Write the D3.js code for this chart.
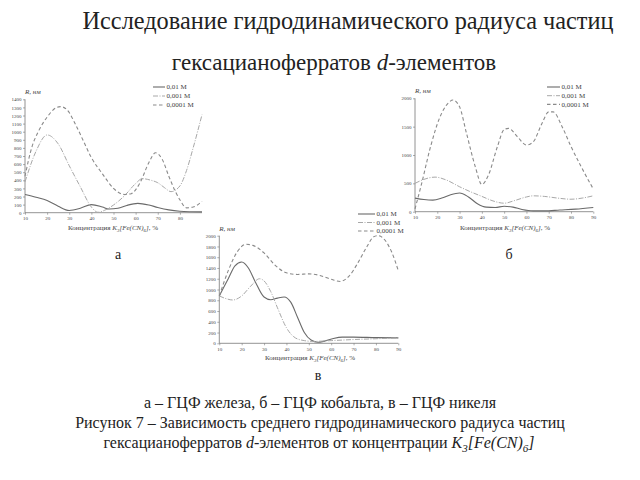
<!DOCTYPE html>
<html><head><meta charset="utf-8">
<script src="https://cdn.jsdelivr.net/npm/d3@7"></script>
<style>
html,body{margin:0;padding:0;background:#fff;}
svg{display:block;}
text{font-family:"Liberation Serif","Times New Roman",serif;}
</style></head>
<body>
<svg id="c" width="640" height="480" font-family="'Liberation Serif', serif"></svg>
<script>
// ---- data ----
const seriesNames = ["0,01 M", "0,001 M", "0,0001 M"];
const xTicksA = [10,20,30,40,50,60,70,80];
const yTicksA = [0,100,200,300,400,500,600,700,800,900,1000,1100,1200,1300,1400];
const xTicksB = [10,20,30,40,50,60,70,80,90];
const yTicksB = [0,500,1000,1500,2000];
const xTicksC = [10,20,30,40,50,60,70,80,90];
const yTicksC = [0,200,400,600,800,1000,1200,1400,1600,1800,2000];

// a – iron
const feSolid = [[10,225],[15,190],[20,150],[25,80],[30,28],[35,55],[40,100],[45,70],[48,45],[52,55],[56,90],[61,115],[66,95],[70,65],[75,35],[80,18],[85,12],[90,10]];
const feDashDot = [[10,380],[15,760],[20,960],[25,850],[30,580],[35,320],[40,70],[43,5],[46,30],[50,95],[55,210],[60,360],[63,420],[67,400],[70,370],[73,310],[76,260],[80,330],[83,520],[86,800],[90,1210]];
const feDash = [[10,450],[13,800],[16,1000],[20,1180],[24,1295],[26,1310],[29,1270],[33,1080],[37,850],[40,680],[45,480],[50,300],[55,225],[58,235],[62,370],[66,620],[69,740],[72,660],[75,450],[78,260],[80,160],[83,60],[86,70],[90,140]];

// б – cobalt
const coSolid = [[10,240],[14,215],[18,205],[22,240],[26,300],[30,330],[34,260],[38,140],[42,80],[46,75],[50,95],[54,80],[58,40],[63,15],[68,15],[75,30],[82,45],[90,75]];
const coDashDot = [[10,500],[14,570],[19,610],[24,560],[30,440],[35,350],[40,270],[45,190],[50,150],[55,200],[60,260],[63,280],[68,270],[74,240],[80,220],[85,240],[90,280]];
const coDash = [[10,50],[13,500],[17,1150],[21,1650],[25,1920],[27,1970],[30,1850],[33,1400],[37,800],[40,480],[43,650],[47,1150],[50,1450],[52,1470],[56,1320],[60,1175],[63,1230],[67,1560],[70,1760],[72,1760],[76,1500],[80,1150],[85,760],[90,400]];

// в – nickel
const niSolid = [[10,880],[14,1200],[17,1440],[20,1510],[23,1400],[26,1150],[30,860],[33,810],[36,840],[39,860],[42,760],[45,480],[48,200],[51,60],[54,20],[57,40],[61,90],[65,115],[70,115],[80,105],[90,100]];
const niDashDot = [[10,880],[13,830],[16,805],[20,880],[24,1060],[28,1200],[30,1160],[33,960],[36,660],[40,290],[44,100],[48,50],[52,35],[60,50],[70,70],[80,85],[90,100]];
const niDash = [[10,880],[14,1350],[18,1700],[22,1840],[25,1820],[30,1680],[35,1450],[40,1310],[45,1280],[50,1290],[55,1260],[60,1190],[64,1150],[68,1250],[72,1500],[76,1800],[79,1980],[81,2000],[84,1920],[87,1700],[90,1350]];

const styles = [
  {stroke:"#6a6a6a", dash:null, w:1.1},
  {stroke:"#a8a8a8", dash:"5,1.5,1,1.5", w:1.0},
  {stroke:"#8a8a8a", dash:"3.5,2.5", w:1.1}
];

const svg = d3.select("#c");

function axisTitle(g, x, y, size){
  const t = g.append("text").attr("x",x).attr("y",y).attr("text-anchor","middle")
    .attr("font-size",size).attr("fill","#444");
  t.append("tspan").text("Концентрация ");
  t.append("tspan").attr("font-style","italic").text("K");
  t.append("tspan").attr("font-style","italic").attr("font-size",size*0.7).attr("dy",size*0.25).text("3");
  t.append("tspan").attr("font-style","italic").attr("dy",-size*0.25).text("[Fe(CN)");
  t.append("tspan").attr("font-style","italic").attr("font-size",size*0.7).attr("dy",size*0.25).text("6");
  t.append("tspan").attr("font-style","italic").attr("dy",-size*0.25).text("]");
  t.append("tspan").text(", %");
}

function drawChart(cfg){
  const g = svg.append("g");
  const x = d3.scaleLinear().domain([10,90]).range(cfg.xr);
  const y = d3.scaleLinear().domain([0,cfg.ymax]).range(cfg.yr);
  const ax = g.append("g").attr("transform",`translate(0,${cfg.yr[0]})`)
    .call(d3.axisBottom(x).tickValues(cfg.xt).tickFormat(d3.format("d")).tickSize(2).tickPadding(2));
  const ay = g.append("g").attr("transform",`translate(${cfg.xr[0]},0)`)
    .call(d3.axisLeft(y).tickValues(cfg.yt).tickFormat(d3.format("d")).tickSize(2).tickPadding(1.5));
  [ax,ay].forEach(a=>{
    a.attr("font-family","'Liberation Serif', serif");
    a.select(".domain").attr("stroke","#777").attr("stroke-width",0.8);
    a.selectAll(".tick line").attr("stroke","#777").attr("stroke-width",0.6);
    a.selectAll(".tick text").attr("font-size",cfg.tf).attr("fill","#444");
  });
  ax.select(".domain").attr("d",`M${cfg.xr[0]},0H${cfg.xr[1]}`);
  ay.select(".domain").attr("d",`M0,${cfg.yr[0]}V${cfg.yr[1]}`);

  const line = d3.line().x(d=>x(d[0])).y(d=>y(d[1])).curve(d3.curveMonotoneX);
  cfg.series.forEach((s,i)=>{
    g.append("path").datum(s).attr("d",line).attr("fill","none")
      .attr("stroke",styles[i].stroke).attr("stroke-width",styles[i].w)
      .attr("stroke-dasharray",styles[i].dash);
  });
  const r = g.append("text").attr("x",cfg.xr[0]).attr("y",cfg.yr[1]-5)
    .attr("font-size",cfg.lf).attr("fill","#444");
  r.append("tspan").attr("font-style","italic").text("R");
  r.append("tspan").text(", ");
  r.append("tspan").attr("font-style","italic").text("нм");
  seriesNames.forEach((n,i)=>{
    const ly = cfg.leg[1] + i*cfg.leg[3];
    g.append("line").attr("x1",cfg.leg[0]).attr("x2",cfg.leg[0]+cfg.leg[2])
      .attr("y1",ly).attr("y2",ly).attr("stroke",styles[i].stroke)
      .attr("stroke-width",styles[i].w).attr("stroke-dasharray",styles[i].dash);
    g.append("text").attr("x",cfg.leg[0]+cfg.leg[2]+1.5).attr("y",ly+2.3)
      .attr("font-size",cfg.lf).attr("fill","#444").text(n);
  });
  axisTitle(g, cfg.tt[0], cfg.tt[1], cfg.lf);
  g.append("text").attr("x",cfg.lab[0]).attr("y",cfg.lab[1]).attr("text-anchor","middle")
    .attr("font-size",14).attr("fill","#222").text(cfg.lab[2]);
}

drawChart({xr:[25,202], yr:[212.7,99.3], ymax:1400, xt:xTicksA, yt:yTicksA, tf:5,
  series:[feSolid,feDashDot,feDash], leg:[153,87,12,9], lf:7, tt:[113,230], lab:[118,259,"а"]});
drawChart({xr:[415,593.3], yr:[211.7,98.3], ymax:2000, xt:xTicksB, yt:yTicksB, tf:5,
  series:[coSolid,coDashDot,coDash], leg:[547,87,13,8.7], lf:7, tt:[505,230], lab:[509,259,"б"]});
drawChart({xr:[219.3,398.3], yr:[343.3,235.7], ymax:2000, xt:xTicksC, yt:yTicksC, tf:5,
  series:[niSolid,niDashDot,niDash], leg:[358,214,17,8.5], lf:7, tt:[310,360], lab:[318,380,"в"]});

// title
svg.append("text").attr("x",348).attr("y",29).attr("text-anchor","middle")
  .attr("font-size",24.3).attr("fill","#222").text("Исследование гидродинамического радиуса частиц");
const t2 = svg.append("text").attr("x",334).attr("y",70).attr("text-anchor","middle")
  .attr("font-size",23).attr("fill","#222");
t2.append("tspan").text("гексацианоферратов ");
t2.append("tspan").attr("font-style","italic").text("d");
t2.append("tspan").text("-элементов");

// captions
svg.append("text").attr("x",320).attr("y",408).attr("text-anchor","middle")
  .attr("font-size",16).attr("fill","#222").text("а – ГЦФ железа, б – ГЦФ кобальта, в – ГЦФ никеля");
svg.append("text").attr("x",320).attr("y",428).attr("text-anchor","middle")
  .attr("font-size",16).attr("fill","#222").text("Рисунок 7 – Зависимость среднего гидродинамического радиуса частиц");
const c3 = svg.append("text").attr("x",319).attr("y",448).attr("text-anchor","middle")
  .attr("font-size",16).attr("fill","#222");
c3.append("tspan").text("гексацианоферратов ");
c3.append("tspan").attr("font-style","italic").text("d");
c3.append("tspan").text("-элементов от концентрации ");
c3.append("tspan").attr("font-style","italic").text("K");
c3.append("tspan").attr("font-style","italic").attr("font-size",11).attr("dy",4).text("3");
c3.append("tspan").attr("font-style","italic").attr("dy",-4).text("[Fe(CN)");
c3.append("tspan").attr("font-style","italic").attr("font-size",11).attr("dy",4).text("6");
c3.append("tspan").attr("font-style","italic").attr("dy",-4).text("]");
</script>
</body></html>
